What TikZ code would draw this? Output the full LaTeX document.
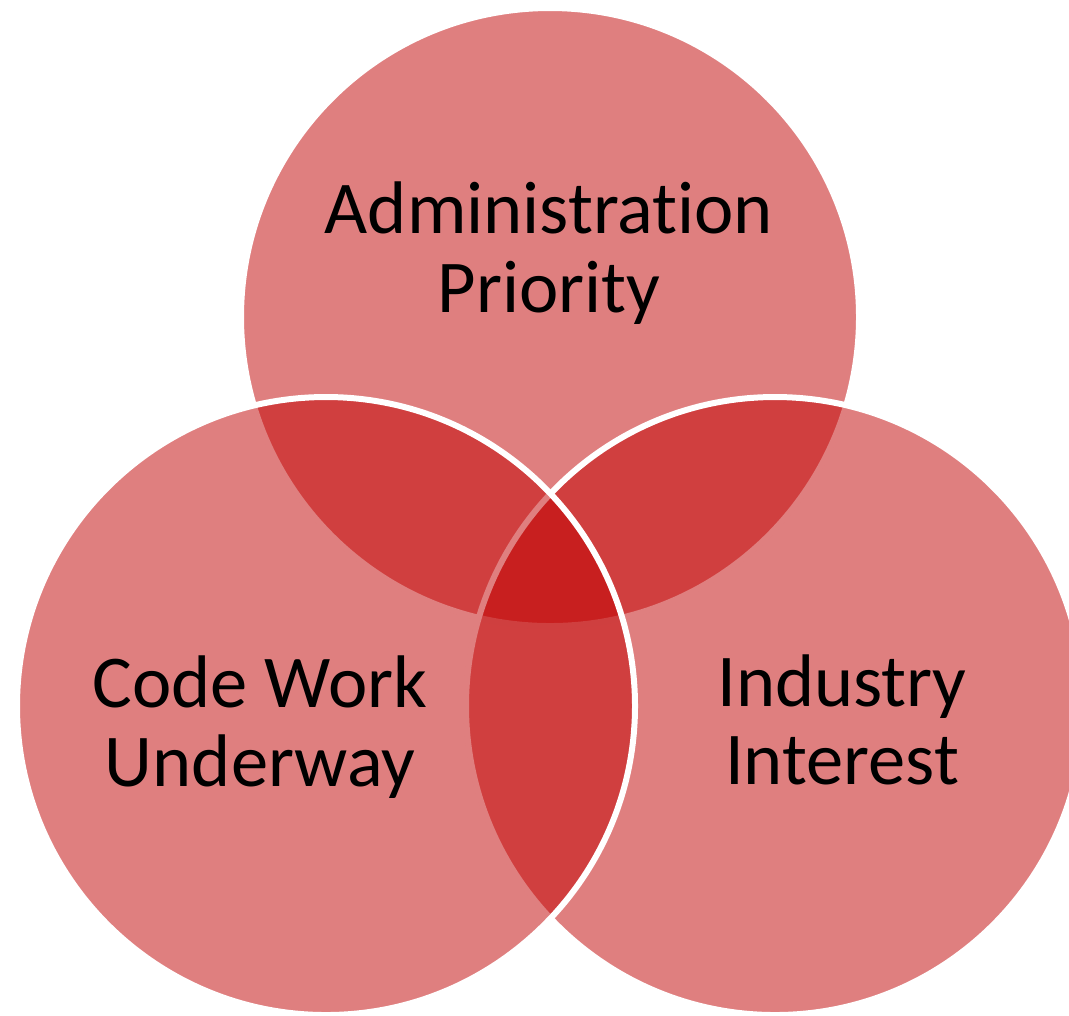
\documentclass[tikz,border=0pt]{standalone}
\usepackage{fontspec}
\setmainfont[Ligatures=NoCommon]{Carlito}
\usepackage{tikz}

\definecolor{vennred}{RGB}{192,0,0}

\begin{document}
\begin{tikzpicture}[set/.style={circle, minimum size=6.18cm, inner sep=0pt, fill=vennred, fill opacity=0.5, draw=white, line width=0.06cm},
                    lbl/.style={align=center, font=\fontsize{21.2}{22.4}\selectfont}]
            \useasboundingbox (0,0) rectangle (10.69,-10.15);
            \node [set] (c_adm) at (5.50,-3.17) {};
            \node [set] (c_ind) at (7.75,-7.06) {};
            \node [set] (c_code) at (3.26,-7.06) {};
            \node [lbl] (t_adm) at (5.49,-2.53) {Administration\\Priority};
            \node [lbl] (t_code) at (2.60,-7.27) {Code Work\\Underway};
            \node [lbl] (t_ind) at (8.42,-7.20) {Industry\\Interest};
            \end{tikzpicture}
\end{document}
